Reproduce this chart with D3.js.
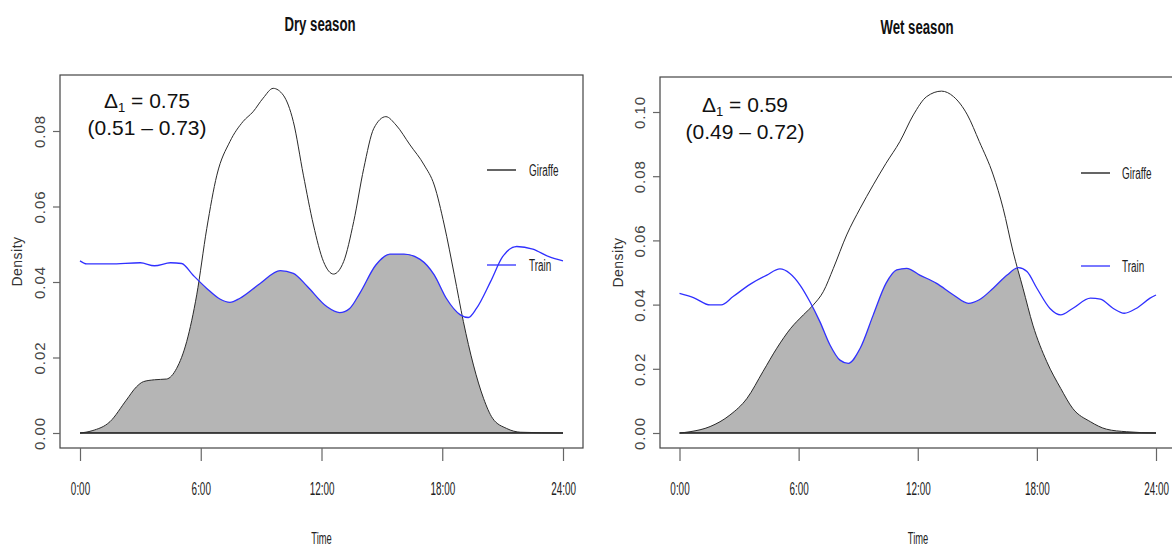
<!DOCTYPE html>
<html>
<head>
<meta charset="utf-8">
<script src="https://cdn.jsdelivr.net/npm/d3@7"></script>
<style>
  body { margin: 0; background: #fff; }
  svg { display: block; }
  text { font-family: "Liberation Sans", Arial, sans-serif; }
</style>
</head>
<body>
<svg id="chart" width="1172" height="549"></svg>
<script>
// ---- Data (hour of day, density) ----
const xTickHours = [0, 6, 12, 18, 24];
const xTickLabels = ["0:00", "6:00", "12:00", "18:00", "24:00"];
const dryYTicks = [0, 0.02, 0.04, 0.06, 0.08];
const wetYTicks = [0, 0.02, 0.04, 0.06, 0.08, 0.10];
const seriesNames = ["Giraffe", "Train"];
const panelTitles = ["Dry season", "Wet season"];
const overlapValues = ["0.75", "0.59"];
const overlapCIs = ["(0.51 \u2013 0.73)", "(0.49 \u2013 0.72)"];

const dryGiraffe = [
  [0,0],[0.6,0.0006],[1.49,0.003],[2.3,0.0087],[2.8,0.0122],[3.15,0.0136],[3.7,0.0141],[4.3,0.0143],
  [4.8,0.0171],[5.3,0.0242],[5.8,0.0366],[6.3,0.0542],[6.8,0.0683],[7.45,0.0772],[8.1,0.0825],
  [8.6,0.0851],[9.1,0.0887],[9.6,0.0913],[10.1,0.0895],[10.6,0.0825],[11.1,0.0683],[11.6,0.0551],
  [12.1,0.0454],[12.6,0.0421],[13.1,0.0454],[13.6,0.056],[14.1,0.0701],[14.6,0.0807],[15.2,0.0838],
  [15.7,0.0816],[16.4,0.0763],[17.1,0.071],[17.6,0.0657],[18.1,0.0551],[18.6,0.0419],[19.05,0.0295],
  [19.55,0.018],[20.05,0.0092],[20.5,0.0039],[21.2,0.0012],[21.9,0.0002],[24,0]
];
const dryTrain = [
  [0,0.0456],[0.33,0.0448],[1.5,0.0448],[3,0.0451],[3.7,0.0443],[4.5,0.0451],[5.05,0.0449],
  [5.6,0.0419],[6.3,0.0383],[6.95,0.0355],[7.45,0.0346],[7.95,0.0357],[8.95,0.0396],[9.95,0.043],
  [10.6,0.0423],[11.3,0.0388],[12.26,0.0335],[12.9,0.0319],[13.4,0.033],[13.9,0.037],[14.7,0.0445],
  [15.4,0.0474],[16.1,0.0474],[16.9,0.046],[17.6,0.0419],[18.2,0.0357],[18.9,0.0313],[19.3,0.0306],
  [19.7,0.033],[20.4,0.0401],[21.0,0.0467],[21.7,0.0494],[22.5,0.0487],[23.3,0.0467],[24,0.0456]
];
const wetGiraffe = [
  [0,0],[0.53,0.0004],[1.54,0.002],[2.54,0.0056],[3.4,0.0108],[4.2,0.0191],[4.9,0.0264],[5.6,0.0326],
  [6.24,0.0368],[6.74,0.0399],[7.24,0.044],[7.75,0.0513],[8.42,0.0617],[9.1,0.07],[9.76,0.0773],
  [10.4,0.084],[11.1,0.0908],[11.78,0.0991],[12.45,0.1048],[13.2,0.1065],[13.8,0.1048],[14.5,0.0991],
  [15.1,0.0908],[15.8,0.0804],[16.3,0.07],[16.8,0.0565],[17.3,0.0451],[17.8,0.0336],[18.5,0.0222],
  [19.2,0.0139],[19.8,0.0077],[20.7,0.0035],[21.5,0.0012],[22.5,0.0004],[24,0]
];
const wetTrain = [
  [0,0.0435],[0.7,0.0422],[1.54,0.0399],[2.1,0.0399],[2.7,0.0425],[3.55,0.0463],[4.4,0.0492],
  [5.06,0.0511],[5.56,0.0497],[6.07,0.0461],[6.57,0.0409],[7.07,0.0347],[7.58,0.0274],[8.08,0.0227],
  [8.5,0.0217],[9.1,0.0264],[9.76,0.0368],[10.4,0.0466],[10.94,0.0508],[11.44,0.0513],[12.1,0.0492],
  [12.95,0.0466],[13.8,0.043],[14.55,0.0404],[15.1,0.0415],[15.8,0.0451],[16.5,0.0492],[17.07,0.0515],
  [17.5,0.0503],[18.0,0.0451],[18.66,0.0388],[19.2,0.0368],[19.8,0.0388],[20.7,0.042],[21.2,0.0417],
  [21.85,0.0388],[22.4,0.0373],[23.0,0.0388],[23.7,0.042],[24,0.043]
];

// ---- Layout ----
const panels = [
  { id: "dry", title: panelTitles[0], titleX: 320, titleY: 31,
    box: { x0: 60, x1: 583, y0: 75, y1: 448 }, xRange: [80, 563],
    yTop: 0.08, yRange: [433, 131], yTicks: dryYTicks,
    giraffe: dryGiraffe, train: dryTrain,
    annX: 147, annY1: 108, annY2: 135, delta: overlapValues[0], ci: overlapCIs[0],
    legX0: 487, legX1: 516, legTextX: 529, legY: [170, 265], yLabX: 17 },
  { id: "wet", title: panelTitles[1], titleX: 917, titleY: 34,
    box: { x0: 660, x1: 1185, y0: 77, y1: 448 }, xRange: [679.5, 1156],
    yTop: 0.10, yRange: [433, 112], yTicks: wetYTicks,
    giraffe: wetGiraffe, train: wetTrain,
    annX: 745, annY1: 112, annY2: 139, delta: overlapValues[1], ci: overlapCIs[1],
    legX0: 1081, legX1: 1110, legTextX: 1122, legY: [173, 266], yLabX: 618 }
];

const svg = d3.select("#chart");

panels.forEach(p => {
  const g = svg.append("g").attr("class", "panel-" + p.id);
  const x = d3.scaleLinear().domain([0, 24]).range(p.xRange);
  const y = d3.scaleLinear().domain([0, p.yTop]).range(p.yRange);

  const curve = d3.curveMonotoneX;
  const area = d3.area().x(d => x(d[0])).y0(y(0)).y1(d => y(d[1])).curve(curve);
  const line = d3.line().x(d => x(d[0])).y(d => y(d[1])).curve(curve);

  // overlap area = area under giraffe clipped by area under train
  const clipId = "clip-" + p.id;
  svg.append("defs").append("clipPath").attr("id", clipId)
    .append("path").attr("d", area(p.train));
  g.append("path").attr("d", area(p.giraffe))
    .attr("fill", "#b5b5b5").attr("clip-path", `url(#${clipId})`);

  // zero line
  g.append("line").attr("x1", x(0)).attr("x2", x(24)).attr("y1", y(0)).attr("y2", y(0))
    .attr("stroke", "#111").attr("stroke-width", 1.4);

  g.append("path").attr("d", line(p.giraffe)).attr("fill", "none")
    .attr("stroke", "#2a2a2a").attr("stroke-width", 1);
  g.append("path").attr("d", line(p.train)).attr("fill", "none")
    .attr("stroke", "#3030ff").attr("stroke-width", 1.3);

  // box
  g.append("rect").attr("x", p.box.x0).attr("y", p.box.y0)
    .attr("width", p.box.x1 - p.box.x0).attr("height", p.box.y1 - p.box.y0)
    .attr("fill", "none").attr("stroke", "#444").attr("stroke-width", 1.2);

  // x axis
  const xAxis = g.append("g").attr("transform", `translate(0,${p.box.y1})`)
    .call(d3.axisBottom(x).tickValues(xTickHours)
      .tickFormat((d, i) => xTickLabels[i]).tickSize(13).tickSizeOuter(0));
  xAxis.select(".domain").remove();
  xAxis.selectAll("line").attr("stroke", "#666").attr("stroke-width", 1.2);
  xAxis.selectAll("text")
    .attr("y", 0).attr("dy", 0)
    .attr("transform", "translate(0,47) scale(0.55,1)")
    .attr("font-size", 18).attr("fill", "#222")
    .attr("font-family", "'Liberation Sans', Arial, sans-serif");

  // y axis
  const yAxis = g.append("g").attr("transform", `translate(${p.box.x0},0)`)
    .call(d3.axisLeft(y).tickValues(p.yTicks).tickFormat(d3.format(".2f")).tickSize(7).tickSizeOuter(0));
  yAxis.select(".domain").remove();
  yAxis.selectAll("line").attr("stroke", "#666").attr("stroke-width", 1.2);
  yAxis.selectAll("text")
    .attr("x", 0).attr("y", 0).attr("dy", "0.36em")
    .attr("transform", "translate(-20,0) rotate(-90)")
    .attr("text-anchor", "middle")
    .attr("font-size", 15).attr("fill", "#444").attr("letter-spacing", 1)
    .attr("font-family", "'Liberation Sans', Arial, sans-serif");

  // axis titles
  g.append("text")
    .attr("transform", `translate(${(p.box.x0 + Math.min(p.box.x1, 1176)) / 2},544) scale(0.55,1)`)
    .attr("text-anchor", "middle").attr("font-size", 17).attr("fill", "#222").text("Time");
  g.append("text")
    .attr("transform", `translate(${p.yLabX},${(p.box.y0 + p.box.y1) / 2}) rotate(-90)`)
    .attr("dy", "0.36em").attr("text-anchor", "middle")
    .attr("font-size", 14).attr("fill", "#333").attr("letter-spacing", 0.5).text("Density");

  // title
  g.append("text")
    .attr("transform", `translate(${p.titleX},${p.titleY}) scale(0.66,1)`)
    .attr("text-anchor", "middle").attr("font-size", 20).attr("font-weight", "bold")
    .attr("fill", "#111").text(p.title);

  // annotation
  const a1 = g.append("text").attr("x", p.annX).attr("y", p.annY1)
    .attr("text-anchor", "middle").attr("font-size", 21).attr("fill", "#111");
  a1.append("tspan").text("\u0394");
  a1.append("tspan").attr("font-size", 13).attr("dy", 4).text("1");
  a1.append("tspan").attr("dy", -4).text(" = " + p.delta);
  g.append("text").attr("x", p.annX).attr("y", p.annY2)
    .attr("text-anchor", "middle").attr("font-size", 21).attr("fill", "#111").text(p.ci);

  // legend
  const legColors = ["#111", "#3030ff"];
  seriesNames.forEach((name, i) => {
    g.append("line").attr("x1", p.legX0).attr("x2", p.legX1)
      .attr("y1", p.legY[i]).attr("y2", p.legY[i])
      .attr("stroke", legColors[i]).attr("stroke-width", 1.3);
    g.append("text")
      .attr("transform", `translate(${p.legTextX},${p.legY[i] + 6}) scale(0.62,1)`)
      .attr("font-size", 16).attr("fill", "#222").text(name);
  });
});
</script>
</body>
</html>
